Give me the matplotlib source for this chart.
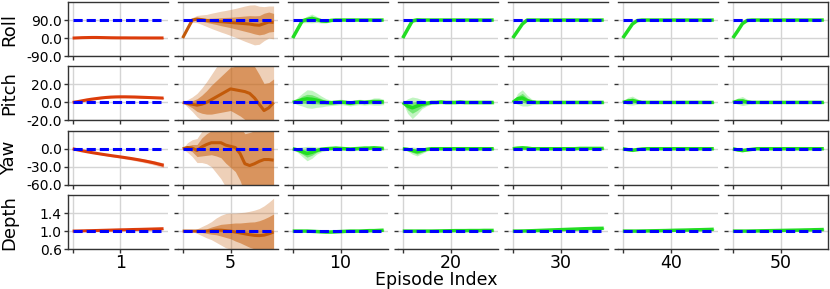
import numpy as np
import matplotlib
matplotlib.use("Agg")
import matplotlib.pyplot as plt

plt.rcParams['axes.unicode_minus'] = False

# time steps along one episode
steps = np.arange(0, 200, 10)

episodes = ['1', '5', '10', '20', '30', '40', '50']
states = ['Roll', 'Pitch', 'Yaw', 'Depth']
targets = [90.0, 0.0, 0.0, 1.0]
y_limits = [(-90, 180), (-20, 40), (-60, 30), (0.6, 1.8)]
y_ticks = [[-90, 0, 90], [-20, 0, 20], [-60, -30, 0], [0.6, 1.0, 1.4]]

# one list per episode: mean, inner band half width, outer band half width
roll_mean = [
    [0, 1, 2, 2.5, 3, 3, 2.5, 2, 1.5, 1.2, 1, 1, 0.8, 0.8, 0.6, 0.6, 0.5, 0.5, 0.5, 0.5],
    [0, 45, 90, 95, 92, 88, 86, 84, 82, 80, 78, 76, 74, 72, 70, 66, 64, 72, 80, 78],
    [0, 43, 86, 93, 98, 93, 86, 84, 88, 90, 90, 90, 90, 90, 90, 90, 90, 90, 90, 90],
    [0, 43, 86, 91, 90, 90, 90, 90, 90, 90, 90, 90, 90, 90, 90, 90, 90, 90, 90, 90],
    [0, 35, 70, 90, 90, 90, 90, 90, 90, 90, 90, 90, 90, 90, 90, 90, 90, 90, 90, 90],
    [0, 35, 70, 87, 90, 90, 90, 90, 90, 90, 90, 90, 90, 90, 90, 90, 90, 90, 90, 90],
    [0, 35, 72, 88, 90, 90, 90, 90, 90, 90, 90, 90, 90, 90, 90, 90, 90, 90, 90, 90],
]
roll_inner = [
    [0, .5, .8, 1, 1, 1, 1, 1, 1, 1, 1, 1, 1, 1, 1, 1, 1, 1, 1, 1],
    [0, 2, 4, 6, 8, 10, 13, 16, 20, 23, 26, 30, 34, 38, 42, 45, 48, 52, 50, 45],
    [0, 3, 6, 9, 12, 8, 6, 5, 3, 1.5, 1, 1, 1, 1, 1, 1, 1, 1, 1, 1],
    [0, 3, 5, 4, 2, 1, 1, 1, 1, 1, 1, 1, 1, 1, 1, 1, 1, 1, 1, 1],
    [0, 1, 1, 1, 1, 1, 1, 1, 1, 1, 1, 1, 1, 1, 1, 1, 1, 1, 1, 1],
    [0, 1, 1, 1, 1, 1, 1, 1, 1, 1, 1, 1, 1, 1, 1, 1, 1, 1, 1, 1],
    [0, 1, 1, 1, 1, 1, 1, 1, 1, 1, 1, 1, 1, 1, 1, 1, 1, 1, 1, 1],
]
roll_outer = [
    [0, 1, 1.5, 2, 2, 2, 2, 2, 2, 2, 2, 2, 2, 2, 2, 2, 2, 2, 2, 2],
    [0, 5, 12, 18, 24, 30, 38, 45, 52, 58, 65, 72, 80, 88, 95, 100, 95, 85, 80, 82],
    [0, 5, 10, 16, 22, 15, 11, 9, 5, 3, 2, 2, 2, 2, 2, 2, 2, 2, 2, 2],
    [0, 6, 10, 8, 4, 2, 2, 2, 2, 2, 2, 2, 2, 2, 2, 2, 2, 2, 2, 2],
    [0, 2, 2, 2, 2, 2, 2, 2, 2, 2, 2, 2, 2, 2, 2, 2, 2, 2, 2, 2],
    [0, 2, 2, 2, 2, 2, 2, 2, 2, 2, 2, 2, 2, 2, 2, 2, 2, 2, 2, 2],
    [0, 2, 2, 2, 2, 2, 2, 2, 2, 2, 2, 2, 2, 2, 2, 2, 2, 2, 2, 2],
]

pitch_mean = [
    [0, 0.8, 1.8, 2.8, 3.6, 4.3, 5, 5.5, 5.9, 6.1, 6.2, 6.2, 6.1, 6, 5.8, 5.6, 5.4, 5.2, 5, 4.8],
    [0, -1, -2, -3, -2, 0, 3, 6, 9, 12, 15, 14, 13, 12, 10, 5, -2, -9, -6, 0],
    [0, 1.5, 3, 4, 3.5, 2.5, 1, 0, -0.5, 0, 0.5, 0, -1, 0, 0.5, 0, 0.5, 1, 1, 0.5],
    [0, -4, -6, -4, -2, -1, 0, 0, 0.5, 0, 0, 0, 0.5, 0, 0, 0, 0, 0, 0, 0],
    [0, 4, 5, 2, 0.5, 0, 0, 0, 0, 0, 0, 0, 0, 0, 0, 0, 0, 0, 0, 0],
    [0, 1.5, 2, 1, 0, 0, 0, 0, 0, 0, 0, 0, 0, 0, 0, 0, 0, 0, 0, 0],
    [0, 1.5, 1.5, 0.5, 0, 0, 0, 0, 0, 0, 0, 0, 0, 0, 0, 0, 0, 0, 0, 0],
]
pitch_inner = [
    [0, .2, .3, .4, .5, .5, .5, .5, .5, .5, .5, .5, .5, .5, .5, .5, .5, .5, .5, .5],
    [0, 2, 4, 7, 10, 13, 16, 18, 20, 22, 24, 26, 28, 31, 33, 35, 33, 30, 28, 26],
    [0, 2, 4, 5, 5, 4, 3, 2, 1.5, 1.5, 1.5, 1.5, 1.5, 1.5, 1.5, 1.5, 1.5, 2, 2, 1.5],
    [0, 4, 6, 5, 3, 2, 1.5, 1, 1, 1, 1, 1, 1, 1, 1, 1, 1, 1, 1, 1],
    [0, 3, 5, 3, 1.5, 1, 1, 1, 1, 1, 1, 1, 1, 1, 1, 1, 1, 1, 1, 1],
    [0, 2, 3, 1.5, 1, 1, 1, 1, 1, 1, 1, 1, 1, 1, 1, 1, 1, 1, 1, 1],
    [0, 2, 3, 1.5, 1, 1, 1, 1, 1, 1, 1, 1, 1, 1, 1, 1, 1, 1, 1, 1],
]
pitch_outer = [
    [0, .4, .6, .8, 1, 1, 1, 1, 1, 1, 1, 1, 1, 1, 1, 1, 1, 1, 1, 1],
    [0, 4, 8, 13, 18, 23, 28, 33, 38, 42, 46, 50, 52, 55, 55, 55, 55, 55, 55, 55],
    [0, 4, 7, 10, 10, 8, 6, 4, 3, 3, 3, 3, 3, 3, 3, 3, 3, 4, 4, 3],
    [0, 8, 12, 9, 5, 3, 2, 2, 2, 2, 2, 2, 2, 2, 2, 2, 2, 2, 2, 2],
    [0, 6, 9, 6, 3, 2, 1.5, 1.5, 1.5, 1.5, 1.5, 1.5, 1.5, 1.5, 1.5, 1.5, 1.5, 1.5, 1.5, 1.5],
    [0, 4, 5, 3, 1.5, 1, 1, 1, 1, 1, 1, 1, 1, 1, 1, 1, 1, 1, 1, 1],
    [0, 3.5, 5, 3, 1.5, 1, 1, 1, 1, 1, 1, 1, 1, 1, 1, 1, 1, 1, 1, 1],
]

yaw_mean = [
    [0, -1.8, -3.5, -5, -6.4, -7.7, -9, -10.2, -11.4, -12.5, -13.6, -14.8, -16, -17.3, -18.7, -20.2, -21.8, -23.5, -25.5, -27.5],
    [0, 2, 1, -3, 3, 7, 10, 10, 10, 6, 4, 2, -8, -25, -28, -25, -21, -18, -18, -19],
    [0, -2, -5, -8, -6, -3, -1, 0, 0.5, 1, 0.5, 0, -0.5, 0, 0.5, 1, 1, 1.5, 1, 0.5],
    [0, -1, -3, -5, -3, -1, 0, 0, 0, 0, 0, 0, 0, 0, 0, 0, 0, 0, 0, 0],
    [0, 1, 1.5, 1, 0, 0, 0, 0, 0, 0, 0, 0, 0, 0, 0.5, 0.5, 0.5, 0.5, 0.5, 0.5],
    [0, -1.5, -2.5, -1.5, -0.5, 0, 0, 0, 0, 0, 0, 0, 0, 0, 0, 0, 0, 0, 0, 0],
    [0, -2, -3, -2, -1, 0, 0, 0, 0, 0, 0, 0, 0, 0, 0, 0, 0, 0, 0, 0],
]
yaw_inner = [
    [0, .1, .2, .3, .4, .5, .6, .7, .8, .9, 1, 1.1, 1.2, 1.3, 1.4, 1.5, 1.6, 1.7, 1.8, 1.9],
    [0, 3, 6, 10, 15, 18, 20, 22, 25, 30, 35, 40, 45, 50, 55, 55, 55, 55, 55, 55],
    [0, 2, 4, 6, 5, 3, 2, 1.5, 1.5, 1.5, 1.5, 1.5, 1.5, 1.5, 1.5, 1.5, 1.5, 1.5, 1.5, 1.5],
    [0, 1.5, 3, 4, 3, 1.5, 1, 1, 1, 1, 1, 1, 1, 1, 1, 1, 1, 1, 1, 1],
    [0, 1, 2, 1.5, 1, 1, 1, 1, 1, 1, 1, 1, 1, 1, 1, 1, 1, 1, 1, 1],
    [0, 1, 1.5, 1, 0.5, 0.5, 0.5, 0.5, 0.5, 0.5, 0.5, 0.5, 0.5, 0.5, 0.5, 0.5, 0.5, 0.5, 0.5, 0.5],
    [0, 1, 1.5, 1, 0.5, 0.5, 0.5, 0.5, 0.5, 0.5, 0.5, 0.5, 0.5, 0.5, 0.5, 0.5, 0.5, 0.5, 0.5, 0.5],
]
yaw_outer = [
    [0, .3, .5, .7, .9, 1.1, 1.3, 1.5, 1.7, 1.9, 2.1, 2.3, 2.5, 2.7, 2.9, 3.1, 3.3, 3.5, 3.7, 3.9],
    [0, 8, 14, 20, 26, 32, 40, 50, 60, 70, 78, 85, 90, 90, 90, 90, 90, 90, 90, 90],
    [0, 4, 8, 12, 10, 6, 4, 3, 3, 3, 3, 3, 3, 3, 3, 3, 3, 3, 3, 3],
    [0, 3, 6, 7, 5, 3, 2, 2, 2, 2, 2, 2, 2, 2, 2, 2, 2, 2, 2, 2],
    [0, 2, 3.5, 3, 2, 1.5, 1.5, 1.5, 1.5, 1.5, 1.5, 1.5, 1.5, 1.5, 1.5, 1.5, 1.5, 1.5, 1.5, 1.5],
    [0, 2, 2.5, 2, 1, 1, 1, 1, 1, 1, 1, 1, 1, 1, 1, 1, 1, 1, 1, 1],
    [0, 2, 2.5, 2, 1, 1, 1, 1, 1, 1, 1, 1, 1, 1, 1, 1, 1, 1, 1, 1],
]

depth_mean = [
    [1.0, 1.002, 1.005, 1.008, 1.01, 1.013, 1.016, 1.019, 1.022, 1.025, 1.028, 1.03, 1.033, 1.036, 1.038, 1.041, 1.044, 1.047, 1.05, 1.053],
    [1.0, 1.0, 1.0, 1.0, 1.0, 1.0, 1.01, 1.02, 1.02, 1.01, 1.0, 0.98, 0.96, 0.94, 0.92, 0.905, 0.9, 0.91, 0.94, 0.98],
    [1.0, 1.0, 1.0, 1.0, 0.995, 0.99, 0.985, 0.98, 0.98, 0.985, 0.99, 0.995, 1.0, 1.0, 1.0, 1.005, 1.01, 1.01, 1.015, 1.02],
    [1.0, 1.0, 1.0, 1.0, 1.0, 1.0, 1.0, 1.002, 1.004, 1.006, 1.008, 1.01, 1.01, 1.01, 1.012, 1.012, 1.012, 1.015, 1.015, 1.015],
    [1.0, 1.0, 1.002, 1.005, 1.008, 1.012, 1.016, 1.02, 1.024, 1.028, 1.032, 1.036, 1.04, 1.044, 1.048, 1.052, 1.055, 1.058, 1.06, 1.062],
    [1.0, 1.0, 1.0, 1.0, 1.002, 1.004, 1.006, 1.008, 1.01, 1.012, 1.015, 1.018, 1.02, 1.022, 1.025, 1.028, 1.03, 1.033, 1.036, 1.04],
    [1.0, 1.0, 1.0, 1.0, 1.002, 1.004, 1.006, 1.008, 1.01, 1.012, 1.014, 1.016, 1.018, 1.02, 1.022, 1.025, 1.027, 1.03, 1.032, 1.035],
]
depth_inner = [
    [0, .001, .001, .002, .002, .002, .003, .003, .003, .003, .003, .003, .003, .003, .003, .003, .003, .003, .003, .003],
    [0, 0, 0, .01, .03, .05, .08, .1, .13, .15, .17, .2, .22, .25, .28, .3, .33, .36, .38, .4],
    [0, .002, .004, .006, .01, .012, .015, .015, .015, .015, .015, .015, .015, .015, .015, .015, .015, .015, .015, .015],
    [0, .003, .005, .006, .007, .008, .008, .008, .008, .008, .008, .008, .008, .008, .008, .008, .008, .008, .008, .008],
    [0, .003, .005, .006, .007, .008, .008, .008, .01, .01, .01, .01, .01, .01, .01, .01, .01, .01, .01, .01],
    [0, .003, .005, .006, .007, .008, .008, .008, .008, .008, .008, .008, .008, .008, .008, .008, .008, .008, .008, .008],
    [0, .003, .005, .006, .007, .008, .008, .008, .008, .008, .008, .008, .008, .008, .008, .008, .008, .008, .008, .008],
]
depth_outer = [
    [0, .002, .003, .004, .004, .005, .005, .006, .006, .006, .006, .006, .006, .006, .006, .006, .006, .006, .006, .006],
    [0, 0, .01, .05, .1, .15, .2, .27, .33, .38, .4, .42, .45, .48, .52, .56, .6, .65, .7, .75],
    [0, .004, .008, .012, .02, .024, .03, .03, .03, .03, .03, .03, .03, .03, .03, .03, .03, .03, .03, .03],
    [0, .006, .01, .012, .014, .015, .015, .015, .015, .015, .015, .015, .015, .015, .015, .015, .015, .015, .015, .015],
    [0, .006, .01, .012, .014, .016, .018, .02, .02, .02, .02, .02, .02, .02, .02, .02, .02, .02, .02, .02],
    [0, .006, .01, .012, .014, .015, .015, .015, .015, .015, .015, .015, .015, .015, .015, .015, .015, .015, .015, .015],
    [0, .006, .01, .012, .014, .015, .015, .015, .015, .015, .015, .015, .015, .015, .015, .015, .015, .015, .015, .015],
]

means = [roll_mean, pitch_mean, yaw_mean, depth_mean]
inners = [roll_inner, pitch_inner, yaw_inner, depth_inner]
outers = [roll_outer, pitch_outer, yaw_outer, depth_outer]

line_colors = ['#dc3c0a', '#c25a0a'] + ['#22dd22'] * 5
band_colors = ['#e04a1a', '#c86414'] + ['#33dd33'] * 5

fig, axes = plt.subplots(4, 7, figsize=(8.3, 2.89), dpi=100)
fig.subplots_adjust(left=0.082, right=0.998, top=0.993, bottom=0.138,
                    wspace=0.1, hspace=0.19)

for r in range(4):
    for c in range(7):
        ax = axes[r, c]
        mean = np.array(means[r][c])
        inner = np.array(inners[r][c])
        outer = np.array(outers[r][c])

        ax.fill_between(steps, mean - outer, mean + outer,
                        color=band_colors[c], alpha=0.3, lw=0)
        ax.fill_between(steps, mean - inner, mean + inner,
                        color=band_colors[c], alpha=0.55, lw=0)
        ax.plot(steps, mean, color=line_colors[c],
                lw=2.5 if c > 1 else 2.2, solid_capstyle='butt')
        ax.plot(steps, [targets[r]] * len(steps), color='#0000ff', lw=2.2,
                dashes=(3, 1.3))

        ax.set_ylim(*y_limits[r])
        ax.set_yticks(y_ticks[r])
        ax.set_xticks([0, 100])
        ax.grid(True, color='#d4d4d4', lw=1)
        ax.set_axisbelow(True)

        for side in ['top', 'bottom', 'left', 'right']:
            ax.spines[side].set_color('#333333')
            ax.spines[side].set_linewidth(1)
        ax.spines['left'].set_visible(c == 0)
        ax.spines['right'].set_visible(c == 6)

        ax.tick_params(axis='both', length=3, width=1, color='#333333', pad=1.5)
        ax.tick_params(axis='y', labelsize=10)
        ax.tick_params(axis='x', labelsize=12.5, pad=0.5)

        if c == 0:
            ax.set_yticklabels(['%.1f' % t for t in y_ticks[r]])
            ax.set_ylabel(states[r], fontsize=13)
            ax.yaxis.set_label_coords(-0.5, 0.5)
        else:
            ax.set_yticklabels([])

        if r == 3:
            ax.set_xticklabels(['', episodes[c]])
        else:
            ax.set_xticklabels([])

fig.text(0.525, 0.0, 'Episode Index', ha='center', va='bottom', fontsize=12.5)

fig.savefig('out.png', dpi=100)
